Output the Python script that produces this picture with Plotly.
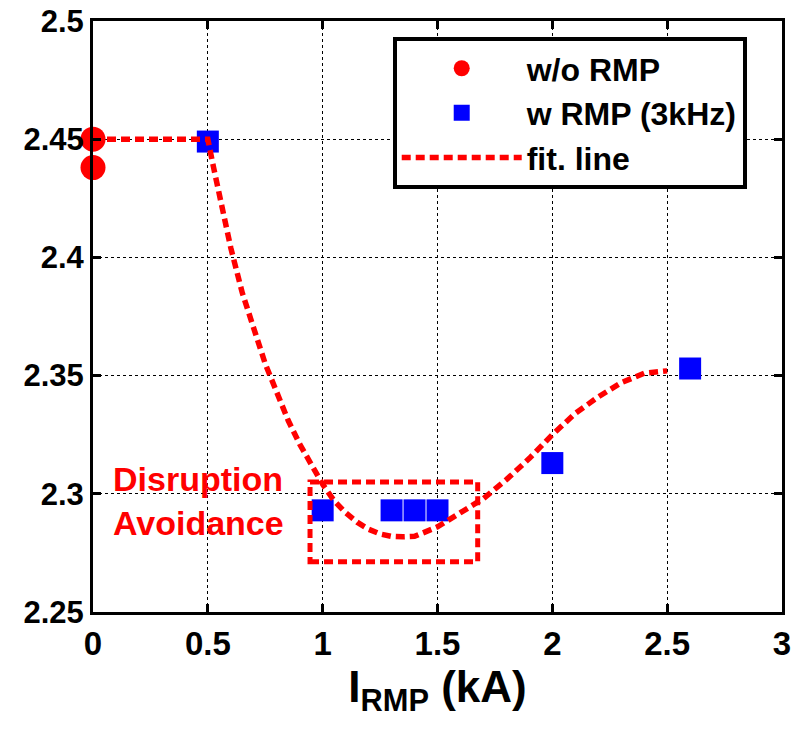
import plotly.graph_objects as go

# ---- data ----
wo_x = [0.0, 0.0]
wo_y = [2.450, 2.438]

w_x = [0.5, 1.0, 1.3, 1.4, 1.5, 2.0, 2.6]
w_y = [2.449, 2.293, 2.293, 2.293, 2.293, 2.313, 2.353]

fit_x = [0.0, 0.5, 0.525, 0.55, 0.6, 0.65, 0.7, 0.75, 0.8, 0.85, 0.9, 0.95,
         1.0, 1.05, 1.1, 1.15, 1.2, 1.25, 1.3, 1.35, 1.4, 1.45, 1.5, 1.6,
         1.7, 1.8, 1.9, 2.0, 2.1, 2.2, 2.3, 2.4, 2.5]
fit_y = [2.450, 2.450, 2.438, 2.427, 2.404, 2.385, 2.369, 2.355, 2.343,
         2.331, 2.321, 2.312, 2.304, 2.297, 2.292, 2.288, 2.285, 2.283,
         2.282, 2.2818, 2.282, 2.284, 2.286, 2.292, 2.298, 2.306, 2.315,
         2.325, 2.334, 2.341, 2.347, 2.351, 2.352]

x_ticks = [0, 0.5, 1, 1.5, 2, 2.5, 3]
x_ticklabels = ["0", "0.5", "1", "1.5", "2", "2.5", "3"]
y_ticks = [2.25, 2.30, 2.35, 2.40, 2.45, 2.50]
y_ticklabels = ["2.25", "2.3", "2.35", "2.4", "2.45", "2.5"]

box_x = [0.945, 1.675]
box_y = [2.2713, 2.305]

RED = "#ff0000"
BLUE = "#0000ff"
DASH = "9px,5px"
FONT = "Liberation Sans, Arial, sans-serif"

fig = go.Figure()

fig.add_trace(go.Scatter(
    x=wo_x, y=wo_y, mode="markers", name="w/o RMP",
    marker=dict(symbol="circle", size=25, color=RED, line=dict(width=0)),
    cliponaxis=False,
))
fig.add_trace(go.Scatter(
    x=w_x, y=w_y, mode="markers", name="w RMP (3kHz)",
    marker=dict(symbol="square", size=22, color=BLUE, line=dict(width=0)),
    cliponaxis=False,
))
fig.add_trace(go.Scatter(
    x=fit_x, y=fit_y, mode="lines", name="fit. line",
    line=dict(color=RED, width=5.5, dash=DASH, shape="linear"),
    cliponaxis=False,
))

fig.add_shape(type="rect", xref="x", yref="y",
              x0=box_x[0], x1=box_x[1], y0=box_y[0], y1=box_y[1],
              line=dict(color=RED, width=5, dash=DASH))

fig.add_annotation(x=0.08, y=2.297, xref="x", yref="y",
                   text="Disruption<br>Avoidance", showarrow=False,
                   xanchor="left", yanchor="middle", align="left",
                   font=dict(family=FONT, size=34, color=RED, weight="bold"))

axis_common = dict(
    showline=True, linecolor="black", linewidth=3, mirror="ticks",
    ticks="inside", ticklen=8, tickwidth=3, tickcolor="black",
    showgrid=True, gridcolor="black", gridwidth=1, griddash="dot",
    zeroline=False, automargin=False,
)

fig.update_xaxes(
    range=[0, 3], tickvals=x_ticks, ticktext=x_ticklabels,
    tickfont=dict(family=FONT, size=33, color="black", weight="bold"),
    title=dict(text="I<sub>RMP</sub> (kA)", standoff=5,
               font=dict(family=FONT, size=44, color="black", weight="bold")),
    **axis_common,
)
fig.update_yaxes(
    range=[2.25, 2.5], tickvals=y_ticks, ticktext=y_ticklabels,
    tickfont=dict(family=FONT, size=31, color="black", weight="bold"),
    **axis_common,
)

fig.update_layout(
    width=795, height=729,
    margin=dict(l=93, r=13, t=21, b=117),
    plot_bgcolor="white", paper_bgcolor="white",
    showlegend=True,
    legend=dict(
        x=0.435, y=0.973, xanchor="left", yanchor="top",
        bgcolor="white", bordercolor="black", borderwidth=4,
        font=dict(family=FONT, size=32, color="black", weight="bold"),
        traceorder="normal",
        itemwidth=120,
    ),
)

fig.write_html("out.html")
